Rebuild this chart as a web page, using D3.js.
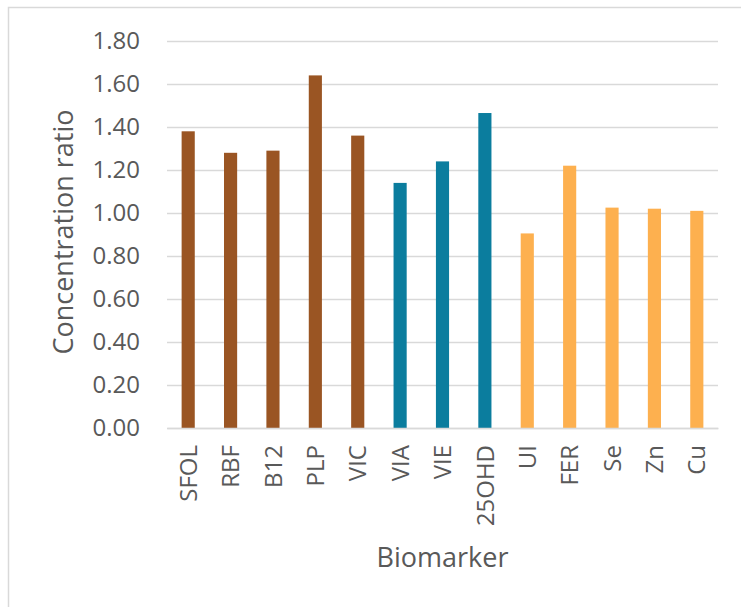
<!DOCTYPE html>
<html>
<head>
<meta charset="utf-8">
<script src="https://cdn.jsdelivr.net/npm/d3@7/dist/d3.min.js"></script>
<style>
  html, body { margin: 0; padding: 0; background: #fff; }
  svg { display: block; }
</style>
</head>
<body>
<script>
// ---- data ----
const categories = ["SFOL", "RBF", "B12", "PLP", "VIC", "VIA", "VIE", "25OHD", "UI", "FER", "Se", "Zn", "Cu"];
const values     = [1.38, 1.28, 1.29, 1.64, 1.36, 1.14, 1.24, 1.465, 0.905, 1.22, 1.025, 1.02, 1.01];
const groups     = ["B", "B", "B", "B", "B", "A", "A", "A", "M", "M", "M", "M", "M"];
const groupNames = ["B", "A", "M"];
const groupColors = ["#9A5523", "#0B7D9E", "#FDB04F"];
const yTicks = [0, 0.2, 0.4, 0.6, 0.8, 1.0, 1.2, 1.4, 1.6, 1.8];
const yTitle = "Concentration ratio";
const xTitle = "Biomarker";

// ---- layout ----
const W = 741, H = 607;
const mLeft = 167, mRight = 718, mTop = 41, mBottom = 428;
const font = "'Open Sans', 'Liberation Sans', Arial, sans-serif";
const textColor = "#595959";
const gridColor = "#d9d9d9";

const svg = d3.select("body").append("svg").attr("width", W).attr("height", H);

// chart border
svg.append("rect")
  .attr("x", 8.5).attr("y", 7.5)
  .attr("width", 760).attr("height", 640)
  .attr("fill", "#fff")
  .attr("stroke", gridColor).attr("stroke-width", 1.5);

const x = d3.scaleBand().domain(categories).range([mLeft, mRight])
  .paddingInner(0.69).paddingOuter(0.345);
const y = d3.scaleLinear().domain([0, 1.8]).range([mBottom, mTop]);
const color = d3.scaleOrdinal().domain(groupNames).range(groupColors);

// gridlines + y labels via axis
const yAxis = d3.axisLeft(y).tickValues(yTicks)
  .tickFormat(d3.format(".2f"))
  .tickSize(-(mRight - mLeft)).tickPadding(27);
const gy = svg.append("g").attr("transform", `translate(${mLeft},0)`).call(yAxis);
gy.select(".domain").remove();
gy.selectAll(".tick line").attr("stroke", gridColor).attr("stroke-width", 1.5);
gy.selectAll(".tick text")
  .attr("fill", textColor)
  .style("font-family", font).style("font-size", "24px");

// bars
svg.append("g").selectAll("rect").data(categories).join("rect")
  .attr("x", d => x(d))
  .attr("width", x.bandwidth())
  .attr("y", (d, i) => y(values[i]))
  .attr("height", (d, i) => y(0) - y(values[i]))
  .attr("fill", (d, i) => color(groups[i]));

// x axis
const xAxis = d3.axisBottom(x).tickSize(0).tickPadding(0);
const gx = svg.append("g").attr("transform", `translate(0,${mBottom})`).call(xAxis);
gx.select(".domain").attr("stroke", gridColor).attr("stroke-width", 1.5);
gx.selectAll(".tick text")
  .attr("fill", textColor)
  .style("font-family", font).style("font-size", "24px")
  .attr("text-anchor", "end")
  .attr("transform", "translate(0,17) rotate(-90)")
  .attr("x", 0).attr("y", 0).attr("dy", "0.36em");

// axis titles
svg.append("text")
  .attr("transform", `translate(73,232) rotate(-90)`)
  .attr("text-anchor", "middle")
  .attr("fill", textColor)
  .style("font-family", font).style("font-size", "27px")
  .text(yTitle);

svg.append("text")
  .attr("x", (mLeft + mRight) / 2).attr("y", 567)
  .attr("text-anchor", "middle")
  .attr("fill", textColor)
  .style("font-family", font).style("font-size", "27px")
  .text(xTitle);
</script>
</body>
</html>
